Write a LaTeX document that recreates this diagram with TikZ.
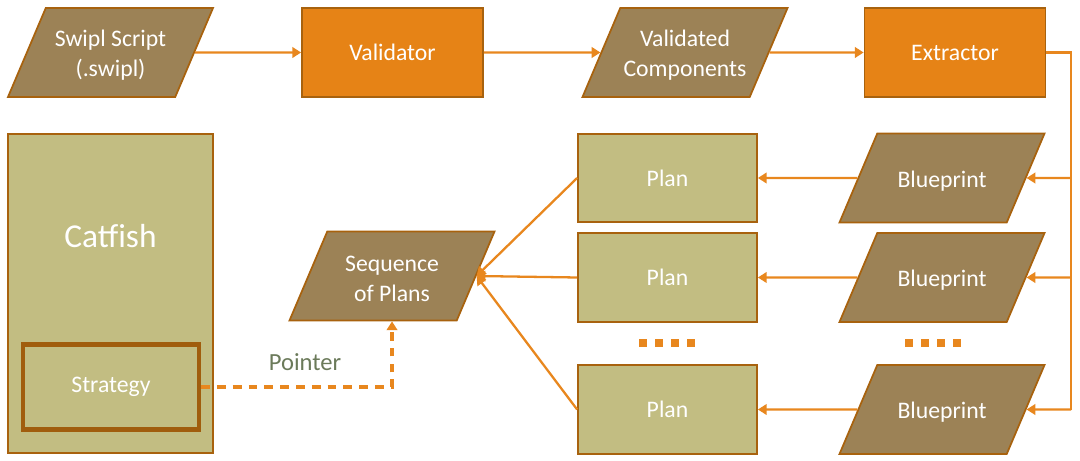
\documentclass[tikz,border=0pt]{standalone}
\usepackage{fontspec}
\setmainfont{Carlito}
\usetikzlibrary{shapes.geometric}
\usetikzlibrary{arrows.meta}
\definecolor{boxorange}{RGB}{230,131,22}
\definecolor{edgebrown}{RGB}{168,98,14}
\definecolor{databrown}{RGB}{156,130,86}
\definecolor{planolive}{RGB}{194,189,130}
\definecolor{lineorange}{RGB}{232,135,30}
\definecolor{labelgreen}{RGB}{107,122,90}

\begin{document}
\begin{tikzpicture}[
    boxfont/.style={font=\fontsize{13.5}{17}\selectfont},
    process/.style={rectangle, fill=boxorange, draw=edgebrown, line width=1pt, minimum width=3.62cm, minimum height=1.78cm, text=white, boxfont},
    data/.style={trapezium, trapezium left angle=67, trapezium right angle=113, trapezium stretches body, fill=databrown, draw=edgebrown, line width=1pt, minimum width=4.1cm, minimum height=1.78cm, inner xsep=0pt, inner ysep=0.39cm, text=white, boxfont,
        execute at begin node={\begin{minipage}[c][1cm][c]{2.5cm}\centering\vspace*{0.12cm}},
        execute at end node={\end{minipage}}},
    plan/.style={rectangle, fill=planolive, draw=edgebrown, line width=1pt, minimum width=3.58cm, minimum height=1.77cm, text=white, boxfont},
    flow/.style={draw=lineorange, line width=1.3pt, -{Triangle[length=5pt,width=6pt]}},
    dot/.style={rectangle, fill=lineorange, minimum size=0.16cm, inner sep=0pt}]

    \useasboundingbox (0,0) rectangle (21.6,-9.22);

    % top row
    \node[data]     at (2.21, -1.05) (swipl) {Swipl Script\\(.swipl)};
    \node[process]  at (7.85, -1.05) (validator) {Validator};
    \node[data]     at (13.7, -1.05) (components) {Validated\\Components};
    \node[process]  at (19.1, -1.05) (extractor) {Extractor};

    \draw[flow] (swipl) -- (validator);
    \draw[flow] (validator) -- (components);
    \draw[flow] (components) -- (extractor);

    % catfish
    \node[rectangle, fill=planolive, draw=edgebrown, line width=1pt, minimum width=4.1cm, minimum height=6.38cm] at (2.21, -5.87) (catfish) {};
    \node[text=white, font=\fontsize{19}{22}\selectfont] at (2.21, -4.72) (catfishlabel) {Catfish};
    \node[plan, line width=2.4pt, draw=edgebrown!95!black, minimum width=3.52cm, minimum height=1.7cm] at (2.22, -7.74) (strategy) {Strategy};

    % plans and blueprints
    \node[data] at (7.84, -5.52) (sequence) {Sequence\\of Plans};

    \node[plan] at (13.35, -3.56) (plan1) {Plan};
    \node[plan] at (13.35, -5.55) (plan2) {Plan};
    \node[plan] at (13.35, -8.19) (plan3) {Plan};

    \node[data] at (18.84, -3.56) (blue1) {Blueprint};
    \node[data] at (18.84, -5.55) (blue2) {Blueprint};
    \node[data] at (18.84, -8.19) (blue3) {Blueprint};

    \foreach \x in {12.86, 13.18, 13.50, 13.82}
        \node[dot] at (\x, -6.86) {};
    \foreach \x in {18.18, 18.50, 18.82, 19.14}
        \node[dot] at (\x, -6.86) {};

    \coordinate (bustop) at (21.42, -1.05);
    \coordinate (bus1) at (21.42, -3.56);
    \coordinate (bus2) at (21.42, -5.55);
    \coordinate (bus3) at (21.42, -8.19);

    \draw[draw=lineorange, line width=1.3pt] (extractor.east) -- (bustop) -- (bus3);
    \draw[flow] (bus1) -- (blue1.east);
    \draw[flow] (bus2) -- (blue2.east);
    \draw[flow] (bus3) -- (blue3.east);

    \draw[flow] (blue1) -- (plan1);
    \draw[flow] (blue2) -- (plan2);
    \draw[flow] (blue3) -- (plan3);

    \draw[flow] (plan1.west) -- (sequence.east);
    \draw[flow] (plan2.west) -- (sequence.east);
    \draw[flow] (plan3.west) -- (sequence.east);

    % pointer
    \draw[flow, line width=1.8pt, dash pattern=on 5pt off 4pt] (strategy.east) -| (sequence.south);
    \node[text=labelgreen, font=\fontsize{14}{17}\selectfont] at (6.1, -7.24) (pointer) {Pointer};

\end{tikzpicture}
\end{document}
